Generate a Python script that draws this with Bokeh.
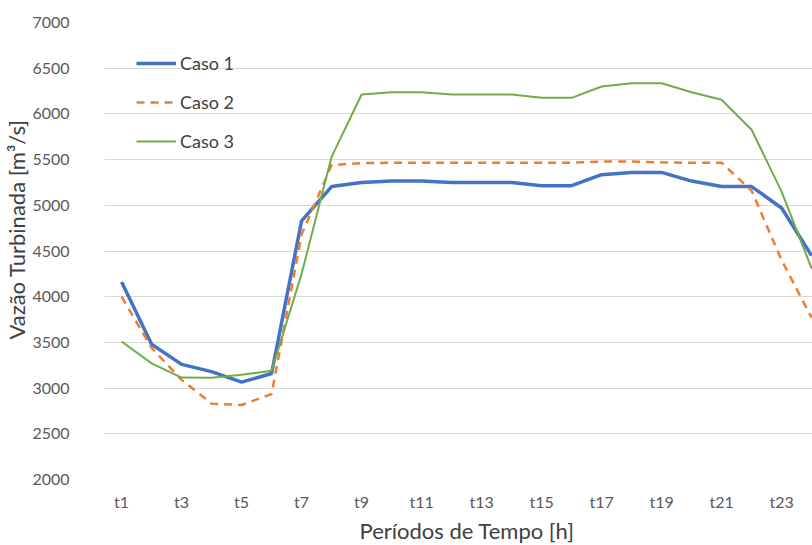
from bokeh.plotting import figure
from bokeh.models import Range1d, FixedTicker, Legend, LegendItem, Title
from bokeh.embed import file_html
from bokeh.resources import INLINE

periods = ["t%d" % i for i in range(1, 25)]
caso1 = [4160, 3480, 3260, 3180, 3065, 3160, 4830, 5205, 5250, 5265, 5265, 5250,
         5250, 5250, 5215, 5215, 5335, 5360, 5360, 5265, 5205, 5205, 4970, 4450]
caso2 = [4000, 3440, 3090, 2830, 2815, 2935, 4680, 5440, 5462, 5465, 5465, 5465,
         5465, 5465, 5465, 5465, 5478, 5478, 5470, 5465, 5465, 5160, 4400, 3770]
caso3 = [3510, 3270, 3115, 3113, 3145, 3190, 4250, 5530, 6212, 6237, 6237, 6212,
         6212, 6212, 6176, 6176, 6300, 6336, 6336, 6237, 6154, 5826, 5150, 4310]
y_ticks = [2000, 2500, 3000, 3500, 4000, 4500, 5000, 5500, 6000, 6500, 7000]

xs = list(range(1, len(periods) + 1))

FONT = "Lato"
p = figure(width=812, height=545, output_backend="svg", toolbar_location=None,
           x_range=Range1d(0.43, 24.03), y_range=Range1d(2000, 7000),
           min_border_left=104, min_border_right=0, min_border_top=22, min_border_bottom=66)
p.outline_line_color = None
p.background_fill_color = "white"
p.border_fill_color = "white"

r1 = p.line(xs, caso1, line_color="#4472C4", line_width=3.5)
r2 = p.line(xs, caso2, line_color="#ED7D31", line_width=2.5, line_dash="8 6")
r3 = p.line(xs, caso3, line_color="#70AD47", line_width=2)

odd = xs[::2]
p.xaxis.ticker = FixedTicker(ticks=odd)
p.xaxis.major_label_overrides = {x: periods[x - 1] for x in odd}
p.yaxis.ticker = FixedTicker(ticks=y_ticks)
p.yaxis.formatter.use_scientific = False

for ax in (p.xaxis, p.yaxis):
    ax.axis_line_color = None
    ax.major_tick_line_color = None
    ax.minor_tick_line_color = None
    ax.major_label_text_font = FONT
    ax.major_label_text_font_size = "16px"
    ax.major_label_text_color = "#595959"

p.xaxis.major_label_standoff = 6
p.yaxis.major_label_standoff = 29

xt = Title(text="Períodos de Tempo [h]", align="left", offset=255, text_font=FONT,
           text_font_size="22px", text_color="#404040", text_font_style="normal", standoff=2)
yt = Title(text="Vazão Turbinada [m³/s]", align="left", offset=140, text_font=FONT,
           text_font_size="22px", text_color="#404040", text_font_style="normal", standoff=0)
p.add_layout(xt, "below")
p.add_layout(yt, "left")

p.xgrid.grid_line_color = None
p.ygrid.grid_line_color = "#D9D9D9"
p.ygrid.grid_line_width = 1

legend = Legend(items=[LegendItem(label="Caso 1", renderers=[r1]),
                       LegendItem(label="Caso 2", renderers=[r2]),
                       LegendItem(label="Caso 3", renderers=[r3])],
                location=(32, 327), orientation="vertical")
legend.border_line_color = None
legend.background_fill_alpha = 0
legend.padding = 0
legend.margin = 0
legend.spacing = 17
legend.glyph_width = 40
legend.glyph_height = 20
legend.label_height = 20
legend.label_standoff = 4
legend.label_text_font = FONT
legend.label_text_font_size = "18px"
legend.label_text_color = "#404040"
p.add_layout(legend, "center")

open("out.html", "w").write(file_html(p, INLINE))
